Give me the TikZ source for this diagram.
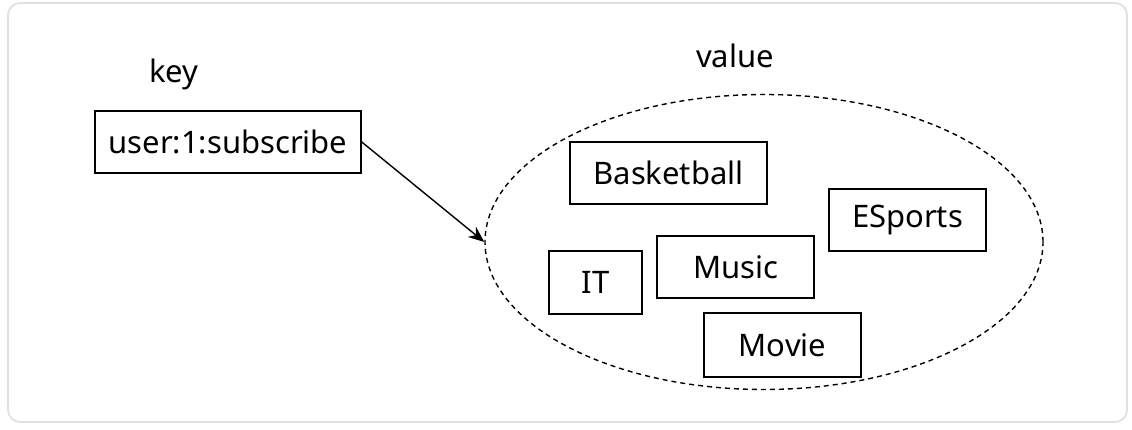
\documentclass[tikz,border=0pt]{standalone}
\usepackage{fontspec}
\setmainfont{Noto Sans}
\usetikzlibrary{arrows.meta,shapes.geometric}
\begin{document}
\begin{tikzpicture}[x=1pt,y=-1pt,
  box/.style={draw,line width=1.5pt,inner sep=0pt,font=\fontsize{31}{35}\selectfont},
  lbl/.style={font=\fontsize{31}{35}\selectfont,inner sep=0pt}]
\useasboundingbox (0,0) rectangle (1132,430);
\draw[draw=black!12,line width=1.8pt,rounded corners=12pt] (8,3) rectangle (1127,422);
\node[lbl] (key) at (174,74) {key};
\node[lbl] (value) at (735,56) {value};
\node[box,minimum width=266pt,minimum height=62pt] (k) at (228,142) {user:1:subscribe};
\node[draw,dash pattern=on 5pt off 4pt,ellipse,line width=1.4pt,minimum width=558pt,minimum height=295pt,inner sep=0pt] (set) at (764,242) {};
\node[box,minimum width=197pt,minimum height=62pt] (b) at (668.5,173) {Basketball};
\node[box,minimum width=157pt,minimum height=62pt] (e) at (907.5,220) {ESports};
\node[box,minimum width=93pt,minimum height=63pt] (it) at (595.5,282.5) {IT};
\node[box,minimum width=157pt,minimum height=62pt] (m) at (735.5,267) {Music};
\node[box,minimum width=157pt,minimum height=64pt] (mv) at (782.5,345) {Movie};
\draw[line width=1.4pt,-{Stealth[length=16pt,width=13pt]}] (k.east) -- (set.west);
\end{tikzpicture}
\end{document}
